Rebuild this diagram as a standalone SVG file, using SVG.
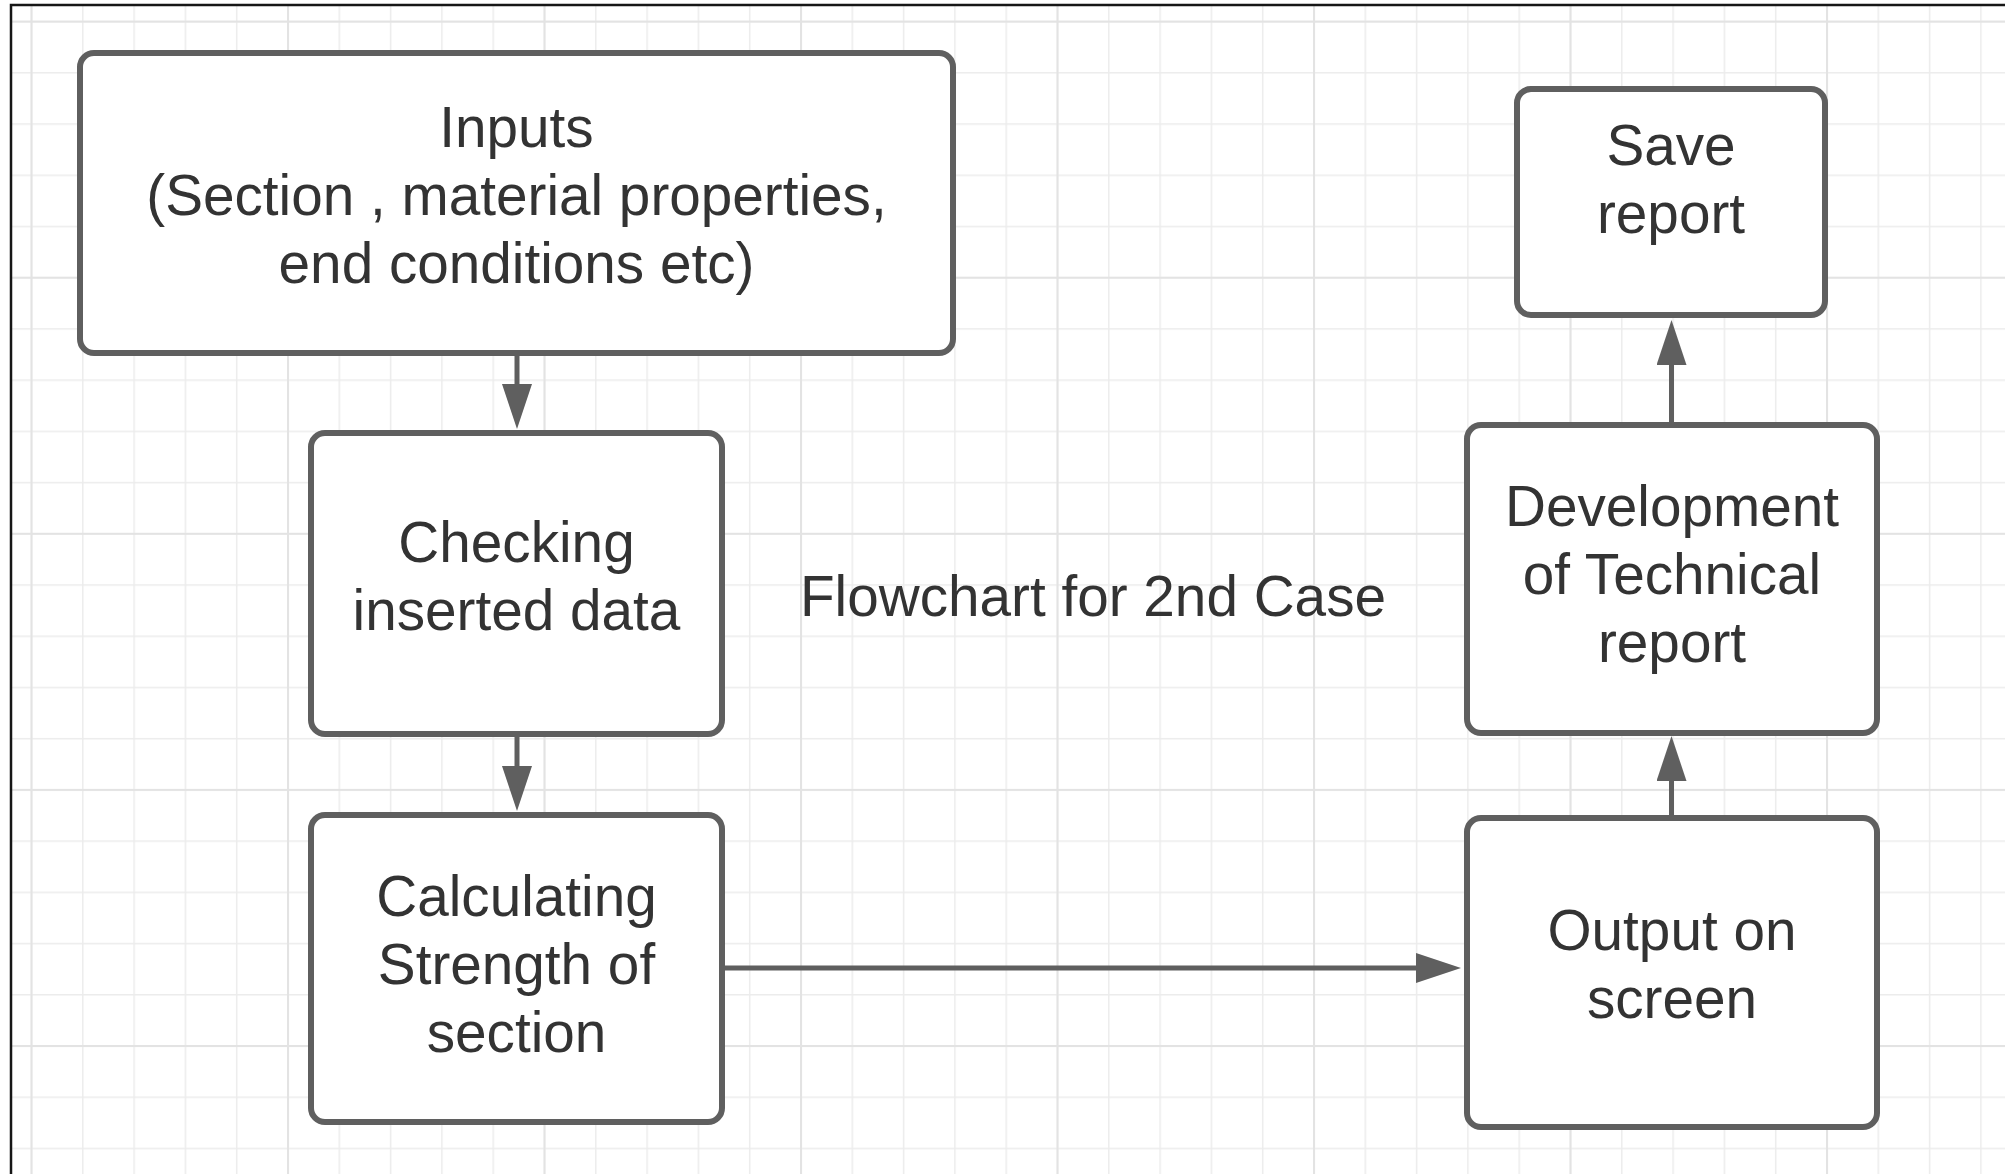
<svg xmlns="http://www.w3.org/2000/svg" width="2005" height="1174" viewBox="0 0 2005 1174">
  <defs>
    <style>
      .box { fill: #ffffff; stroke: #5f5f5f; stroke-width: 6; }
      .lbl { font-family: "Liberation Sans", Arial, sans-serif; font-size: 56.7px; fill: #333333; text-anchor: middle; }
      .conn { fill: none; stroke: #5f5f5f; stroke-width: 5; }
    </style>
    <pattern id="minor" patternUnits="userSpaceOnUse" x="30.75" y="20.85" width="51.3" height="51.22">
      <path d="M0.75 0 V51.22 M0 0.75 H51.3" stroke="#ececec" stroke-width="1.5" fill="none"/>
    </pattern>
    <pattern id="major" patternUnits="userSpaceOnUse" x="30.5" y="20.6" width="256.5" height="256.1">
      <path d="M1 0 V256.1 M0 1 H256.5" stroke="#e3e3e3" stroke-width="2" fill="none"/>
    </pattern>
    <marker id="ah" markerUnits="userSpaceOnUse" markerWidth="46" markerHeight="30" refX="0" refY="15" orient="auto">
      <path d="M0,0 L45,15 L0,30 Z" fill="#5f5f5f"/>
    </marker>
  </defs>

  <rect x="0" y="0" width="2005" height="1174" fill="#ffffff"/>
  <rect x="12" y="6" width="1993" height="1168" fill="url(#minor)"/>
  <rect x="12" y="6" width="1993" height="1168" fill="url(#major)"/>
  <path d="M11 1174 V5 H2005" fill="none" stroke="#161616" stroke-width="2.5"/>

  <text class="lbl" x="1093" y="616">Flowchart for 2nd Case</text>

  <g id="connectors">
    <path class="conn" d="M517 356 V384" marker-end="url(#ah)"/>
    <path class="conn" d="M517 737 V766" marker-end="url(#ah)"/>
    <path class="conn" d="M725 968 H1416" marker-end="url(#ah)"/>
    <path class="conn" d="M1671.5 818 V781" marker-end="url(#ah)"/>
    <path class="conn" d="M1671.5 422 V365" marker-end="url(#ah)"/>
  </g>

  <g id="node-inputs">
    <rect class="box" x="80" y="53" width="873" height="300" rx="14"/>
    <text class="lbl" x="516.5" y="147">Inputs</text>
    <text class="lbl" x="516.5" y="215">(Section , material properties,</text>
    <text class="lbl" x="516.5" y="283">end conditions etc)</text>
  </g>

  <g id="node-checking">
    <rect class="box" x="311" y="433" width="411" height="301" rx="14"/>
    <text class="lbl" x="516.5" y="562">Checking</text>
    <text class="lbl" x="516.5" y="630">inserted data</text>
  </g>

  <g id="node-calculating">
    <rect class="box" x="311" y="815" width="411" height="307" rx="14"/>
    <text class="lbl" x="516.5" y="916">Calculating</text>
    <text class="lbl" x="516.5" y="984">Strength of</text>
    <text class="lbl" x="516.5" y="1052">section</text>
  </g>

  <g id="node-output">
    <rect class="box" x="1467" y="818" width="410" height="309" rx="14"/>
    <text class="lbl" x="1672" y="950">Output on</text>
    <text class="lbl" x="1672" y="1018">screen</text>
  </g>

  <g id="node-development">
    <rect class="box" x="1467" y="425" width="410" height="308" rx="14"/>
    <text class="lbl" x="1672" y="526">Development</text>
    <text class="lbl" x="1672" y="594">of Technical</text>
    <text class="lbl" x="1672" y="662">report</text>
  </g>

  <g id="node-save">
    <rect class="box" x="1517" y="89" width="308" height="226" rx="14"/>
    <text class="lbl" x="1671" y="165">Save</text>
    <text class="lbl" x="1671" y="233">report</text>
  </g>
</svg>
